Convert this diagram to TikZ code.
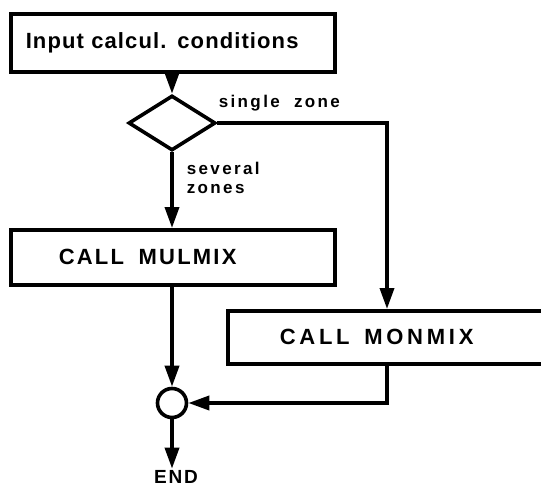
\documentclass[tikz,border=0pt]{standalone}
\usepackage{fontspec}
\setmainfont{Liberation Sans}
\usetikzlibrary{arrows.meta,shapes.geometric}
\begin{document}
\begin{tikzpicture}[x=1pt,y=-1pt,
  line width=3.6pt,
  font=\bfseries,
  arr/.style={-{Triangle[length=21pt,width=14pt]}},
  procbox/.style={draw,rectangle,align=left,anchor=north west},
  decision/.style={draw,diamond,inner sep=0pt,minimum width=87pt,minimum height=55pt},
  joint/.style={draw,circle,inner sep=0pt,minimum size=29pt},
  lbl/.style={inner sep=0pt,font=\bfseries\fontsize{17}{19}\selectfont\addfontfeatures{LetterSpace=14}},
  boxtext/.style={font=\bfseries\fontsize{22}{24}\selectfont\addfontfeatures{LetterSpace=5}},
  calltext/.style={font=\bfseries\fontsize{22}{24}\selectfont\addfontfeatures{LetterSpace=10}},
  calltextwide/.style={font=\bfseries\fontsize{22}{24}\selectfont\addfontfeatures{LetterSpace=17}}]
\fill[white] (0,0) rectangle (541,487);
\useasboundingbox (0,0) rectangle (541,487);

% process boxes
\node[procbox,boxtext,minimum width=324pt,minimum height=58pt,
      text width=294pt,inner xsep=15pt,inner ysep=0pt] (input) at (9,12) {Input calcul. conditions};
\node[procbox,calltext,minimum width=324pt,minimum height=55pt,
      text width=228pt,inner xsep=48pt,inner ysep=0pt] (mul) at (9,228) {CALL\ \ MULMIX};
\node[procbox,calltextwide,minimum width=400pt,minimum height=53pt,
      text width=296pt,inner xsep=52pt,inner ysep=0pt] (mon) at (226,309) {CALL\ \ MONMIX};

% decision and junction
\node[decision] (dec) at (172,123) {};
\node[joint] (join) at (172,403) {};
\node[inner sep=0pt,font=\bfseries\fontsize{19}{21}\selectfont\addfontfeatures{LetterSpace=10}] (end) at (176,477) {END};

% branch labels
\node[lbl,anchor=west] (single) at (217,103) {single\ \ zone};
\node[lbl,anchor=north west,align=left] (several) at (185,160) {several\\zones};

% connectors
\coordinate (rail) at (387,0);
\draw[arr] (input.south -| dec.north) -- (dec.north);
\draw[arr] (dec.east) -| (rail |- mon.north);
\draw[arr] (dec.south) -- (mul.north -| dec.south);
\draw[arr] (mul.south -| join.north) -- (join.north);
\draw[arr] (rail |- mon.south) |- (join.east);
\draw[arr] (join.south) -- (end.north -| join.south);
\end{tikzpicture}
\end{document}
